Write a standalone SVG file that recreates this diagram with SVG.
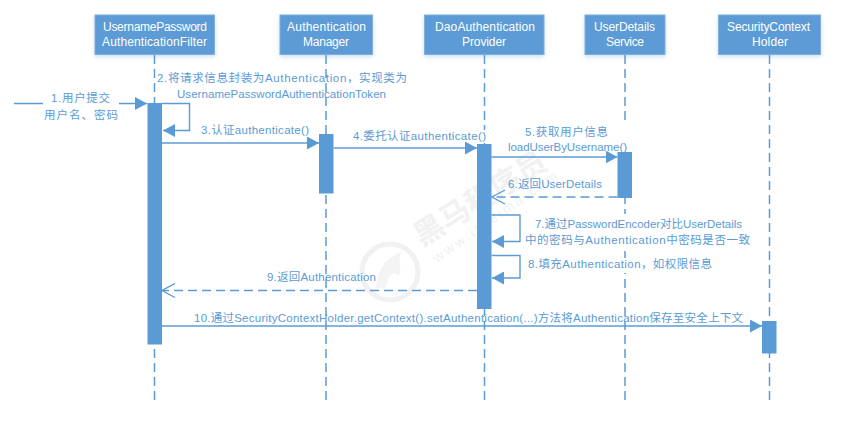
<svg xmlns="http://www.w3.org/2000/svg" width="851" height="427" viewBox="0 0 851 427">
<style>
text{font-family:"Liberation Sans","Noto Sans CJK SC",sans-serif;font-size:11.500px;fill:#5b9bd5;text-anchor:start}
.n{fill:#5b9bd5;stroke:#7fb0de;stroke-width:1;filter:url(#s)}
.n-t{fill:#fff;font-size:12px}
.life{stroke:#5b9bd5;stroke-width:1.500;stroke-dasharray:9 5;fill:none}
.act{fill:#5b9bd5}
.m{stroke:#5b9bd5;stroke-width:1.400;fill:none}
.d{stroke-dasharray:9 5}
.wm{fill:#f1f1f1;font-weight:bold;font-size:30px}
</style>
<defs>
<filter id="s" x="-10%" y="-10%" width="120%" height="130%"><feDropShadow dx="0" dy="2" stdDeviation="2" flood-color="#5b9bd5" flood-opacity=".3"/></filter>
<marker id="f" markerWidth="13" markerHeight="13" refX="12" refY="6.500" orient="auto" markerUnits="userSpaceOnUse"><path d="M0 0L12 6.500L0 13Z" fill="#5b9bd5"/></marker>
<marker id="o" markerWidth="15" markerHeight="16" refX="14" refY="8" orient="auto" markerUnits="userSpaceOnUse"><path d="M1 1L14 8L1 15" fill="none" stroke="#5b9bd5" stroke-width="1.400"/></marker>
</defs>
<g id="watermark">
<circle cx="390" cy="272" r="28" fill="none" stroke="#f1f1f1" stroke-width="5"/>
<path d="M376 288C378 270 384 258 402 252C396 262 404 268 398 276C394 270 388 274 386 288Z" fill="#f4f4f4"/>
<text class="wm" transform="translate(422 247) rotate(-32)">黑马程序员</text>
<text class="wm" style="font-size:14px;font-weight:normal" transform="translate(437 263) rotate(-35)" textLength="148">www.itheima.com</text>
</g>
<g id="lifelines">
<line class="life" x1="154.500" y1="55" x2="154.500" y2="401"/>
<line class="life" x1="326" y1="55" x2="326" y2="401"/>
<line class="life" x1="484.500" y1="55" x2="484.500" y2="401"/>
<line class="life" x1="625" y1="55" x2="625" y2="401"/>
<line class="life" x1="769.500" y1="55" x2="769.500" y2="401"/>
</g>
<g id="label-backs" fill="#fff">
<rect x="508" y="125" width="119" height="27"/>
<rect x="476" y="130" width="12" height="13"/>
<rect x="610" y="214" width="30" height="34"/>
<rect x="610" y="258" width="30" height="15"/>
</g>
<g id="activations">
<rect class="act" x="147.500" y="103" width="14.500" height="241.500"/>
<rect class="act" x="319" y="134" width="14.500" height="59.500"/>
<rect class="act" x="477" y="144" width="14.500" height="165"/>
<rect class="act" x="617.500" y="152" width="14.500" height="46"/>
<rect class="act" x="762" y="321" width="14.500" height="32.500"/>
</g>
<g id="connectors">
<path class="m" d="M14 103.500H43M119 103.500H147" marker-end="url(#f)"/>
<path class="m" d="M162 103.500H189.500V130.500H163" marker-end="url(#f)"/>
<path class="m" d="M162 143H319" marker-end="url(#f)"/>
<path class="m" d="M333.500 148H477" marker-end="url(#f)"/>
<path class="m" d="M491.500 157H617.500" marker-end="url(#f)"/>
<path class="m d" d="M617.500 197H492" marker-end="url(#o)"/>
<path class="m" d="M491.500 215H520V241.500H492" marker-end="url(#f)"/>
<path class="m" d="M491.500 255.500H520V278H492" marker-end="url(#f)"/>
<path class="m d" d="M477 290.500H162" marker-end="url(#o)"/>
<path class="m" d="M162 326H762" marker-end="url(#f)"/>
</g>
<g id="labels">
<text x="51" y="102" textLength="59">1.用户提交</text>
<text x="44" y="119" textLength="74">用户名、密码</text>
<text x="157" y="82" textLength="250">2.将请求信息封装为Authentication，实现类为</text>
<text x="177" y="98" textLength="209">UsernamePasswordAuthenticationToken</text>
<text x="201" y="134" textLength="108">3.认证authenticate()</text>
<text x="353" y="140" textLength="133">4.委托认证authenticate()</text>
<text x="525" y="136" textLength="83">5.获取用户信息</text>
<text x="508" y="151" textLength="119">loadUserByUsername()</text>
<text x="508" y="188" textLength="94">6.返回UserDetails</text>
<text x="535" y="228" textLength="207">7.通过PasswordEncoder对比UserDetails</text>
<text x="525" y="244" textLength="225">中的密码与Authentication中密码是否一致</text>
<text x="528" y="268" textLength="184">8.填充Authentication，如权限信息</text>
<text x="267" y="281" textLength="109">9.返回Authentication</text>
<text x="194" y="322" textLength="549">10.通过SecurityContextHolder.getContext().setAuthentication(...)方法将Authentication保存至安全上下文</text>
</g>
<g id="n1"><rect class="n" x="95" y="15" width="119.500" height="39.500"/><text class="n-t" x="103" y="31" textLength="104">UsernamePassword</text><text class="n-t" x="102" y="46" textLength="105">AuthenticationFilter</text></g>
<g id="n2"><rect class="n" x="280" y="15" width="92.500" height="39.500"/><text class="n-t" x="287" y="31" textLength="79">Authentication</text><text class="n-t" x="303" y="46" textLength="46">Manager</text></g>
<g id="n3"><rect class="n" x="424.500" y="15" width="119.500" height="39.500"/><text class="n-t" x="435" y="31" textLength="100">DaoAuthentication</text><text class="n-t" x="462" y="46" textLength="44">Provider</text></g>
<g id="n4"><rect class="n" x="585" y="15" width="80" height="39.500"/><text class="n-t" x="594" y="31" textLength="61">UserDetails</text><text class="n-t" x="606" y="46" textLength="38">Service</text></g>
<g id="n5"><rect class="n" x="718.500" y="15" width="102" height="39.500"/><text class="n-t" x="727" y="31" textLength="83">SecurityContext</text><text class="n-t" x="752" y="46" textLength="36">Holder</text></g>
</svg>
